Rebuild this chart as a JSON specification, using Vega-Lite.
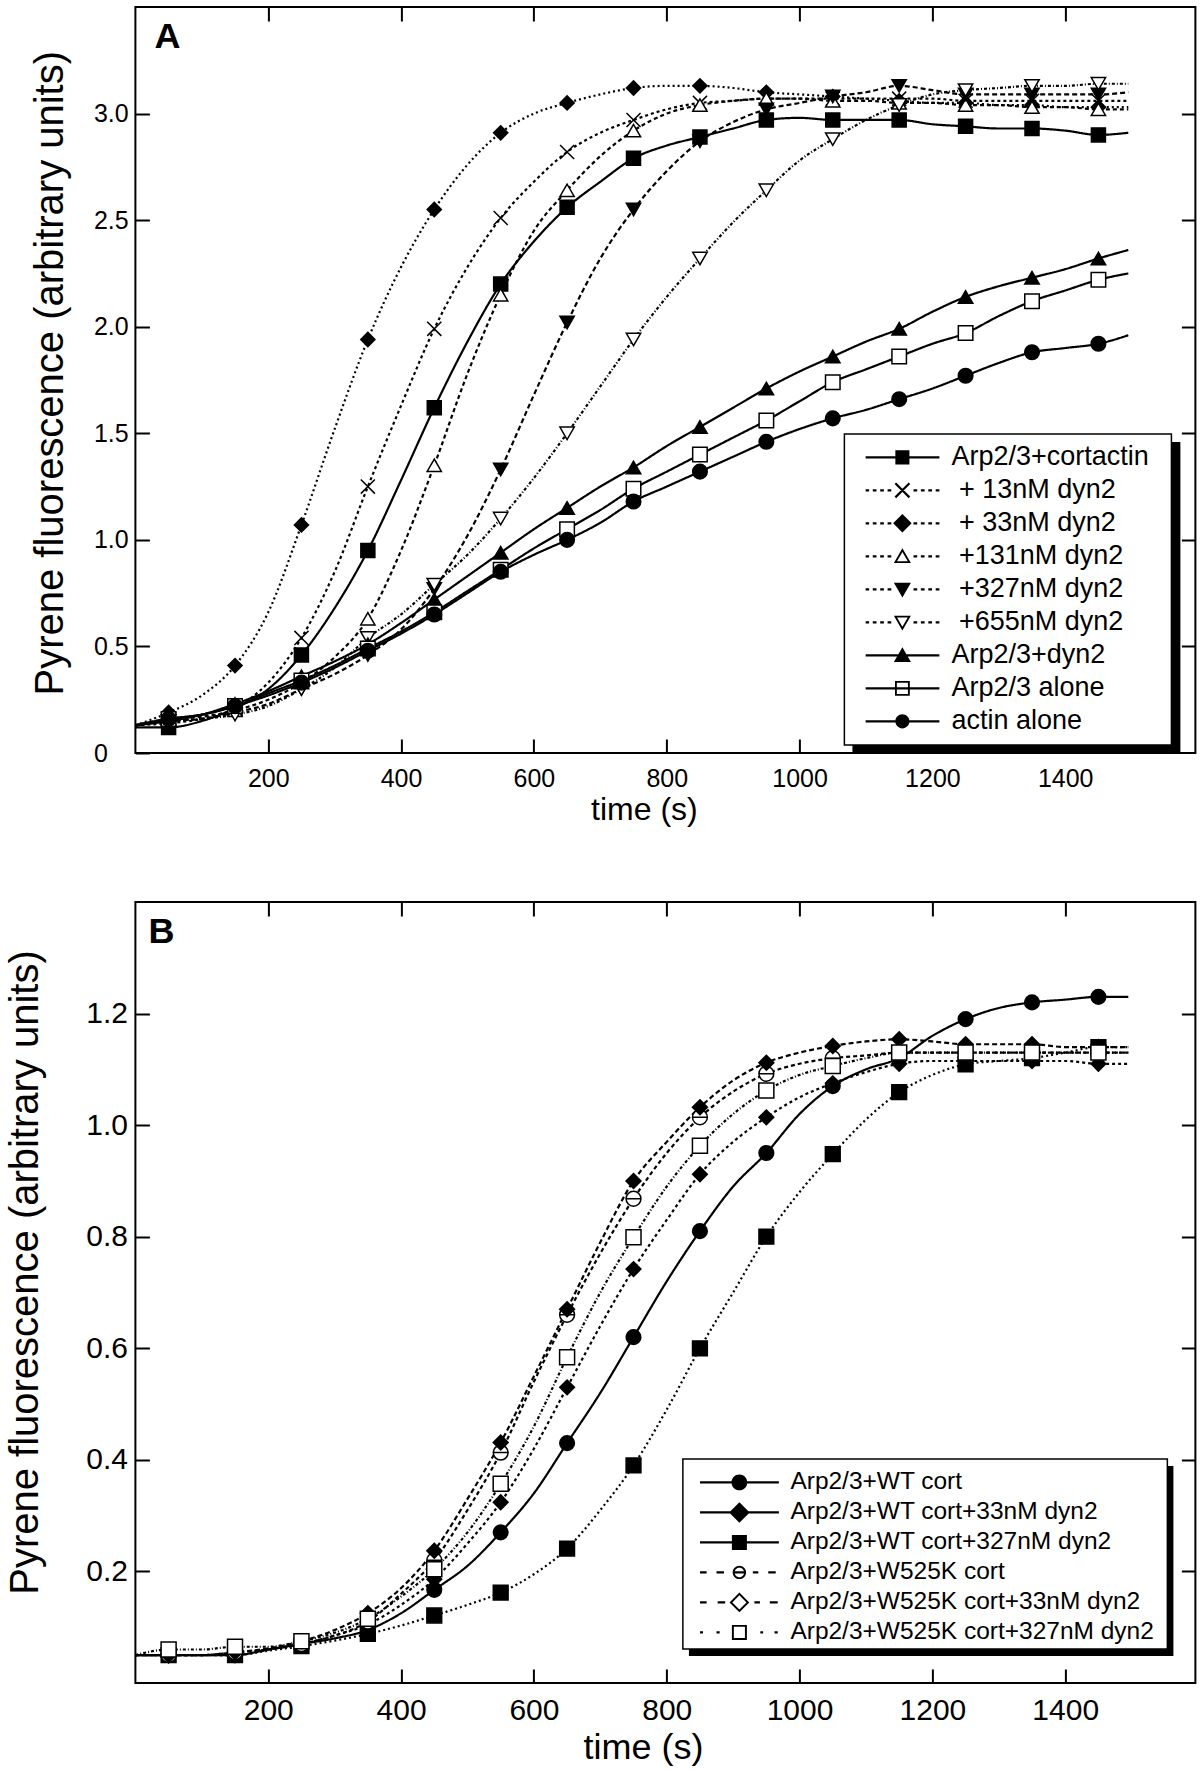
{
"$schema": "https://vega.github.io/schema/vega-lite/v6.json",
"background": "white",
"padding": {"left": 4.4, "top": 5, "right": 2, "bottom": 2},
"spacing": 149,
"bounds": "flush",
"config": {
 "font": "Liberation Sans",
 "view": {"stroke": "black", "strokeWidth": 2},
 "axis": {"labelColor": "black", "titleColor": "black", "titleFontWeight": "normal", "grid": false, "domain": false, "tickColor": "black", "tickWidth": 2, "labelFlush": false, "labelOverlap": false},
 "legend": {"labelColor": "black"}
},
"datasets": {
"A": [
{"series":"Arp2/3+cortactin","time":0,"value":0.12},{"series":"Arp2/3+cortactin","time":50,"value":0.12},{"series":"Arp2/3+cortactin","time":100,"value":0.15},{"series":"Arp2/3+cortactin","time":150,"value":0.21},{"series":"Arp2/3+cortactin","time":200,"value":0.30},{"series":"Arp2/3+cortactin","time":250,"value":0.46},{"series":"Arp2/3+cortactin","time":300,"value":0.68},{"series":"Arp2/3+cortactin","time":350,"value":0.95},{"series":"Arp2/3+cortactin","time":400,"value":1.28},{"series":"Arp2/3+cortactin","time":450,"value":1.62},{"series":"Arp2/3+cortactin","time":500,"value":1.93},{"series":"Arp2/3+cortactin","time":550,"value":2.20},{"series":"Arp2/3+cortactin","time":600,"value":2.40},{"series":"Arp2/3+cortactin","time":650,"value":2.56},{"series":"Arp2/3+cortactin","time":700,"value":2.68},{"series":"Arp2/3+cortactin","time":750,"value":2.79},{"series":"Arp2/3+cortactin","time":800,"value":2.85},{"series":"Arp2/3+cortactin","time":850,"value":2.89},{"series":"Arp2/3+cortactin","time":900,"value":2.93},{"series":"Arp2/3+cortactin","time":950,"value":2.97},{"series":"Arp2/3+cortactin","time":1000,"value":2.98},{"series":"Arp2/3+cortactin","time":1050,"value":2.97},{"series":"Arp2/3+cortactin","time":1100,"value":2.97},{"series":"Arp2/3+cortactin","time":1150,"value":2.97},{"series":"Arp2/3+cortactin","time":1200,"value":2.95},{"series":"Arp2/3+cortactin","time":1250,"value":2.94},{"series":"Arp2/3+cortactin","time":1300,"value":2.93},{"series":"Arp2/3+cortactin","time":1350,"value":2.93},{"series":"Arp2/3+cortactin","time":1400,"value":2.92},{"series":"Arp2/3+cortactin","time":1450,"value":2.90},{"series":"Arp2/3+cortactin","time":1495,"value":2.91},
{"series":"+ 13nM dyn2","time":0,"value":0.13},{"series":"+ 13nM dyn2","time":50,"value":0.14},{"series":"+ 13nM dyn2","time":100,"value":0.16},{"series":"+ 13nM dyn2","time":150,"value":0.21},{"series":"+ 13nM dyn2","time":200,"value":0.33},{"series":"+ 13nM dyn2","time":250,"value":0.54},{"series":"+ 13nM dyn2","time":300,"value":0.85},{"series":"+ 13nM dyn2","time":350,"value":1.25},{"series":"+ 13nM dyn2","time":400,"value":1.63},{"series":"+ 13nM dyn2","time":450,"value":1.99},{"series":"+ 13nM dyn2","time":500,"value":2.28},{"series":"+ 13nM dyn2","time":550,"value":2.51},{"series":"+ 13nM dyn2","time":600,"value":2.68},{"series":"+ 13nM dyn2","time":650,"value":2.82},{"series":"+ 13nM dyn2","time":700,"value":2.91},{"series":"+ 13nM dyn2","time":750,"value":2.97},{"series":"+ 13nM dyn2","time":800,"value":3.02},{"series":"+ 13nM dyn2","time":850,"value":3.05},{"series":"+ 13nM dyn2","time":900,"value":3.06},{"series":"+ 13nM dyn2","time":950,"value":3.07},{"series":"+ 13nM dyn2","time":1000,"value":3.07},{"series":"+ 13nM dyn2","time":1050,"value":3.07},{"series":"+ 13nM dyn2","time":1100,"value":3.07},{"series":"+ 13nM dyn2","time":1150,"value":3.07},{"series":"+ 13nM dyn2","time":1200,"value":3.07},{"series":"+ 13nM dyn2","time":1250,"value":3.06},{"series":"+ 13nM dyn2","time":1300,"value":3.06},{"series":"+ 13nM dyn2","time":1350,"value":3.06},{"series":"+ 13nM dyn2","time":1400,"value":3.06},{"series":"+ 13nM dyn2","time":1450,"value":3.06},{"series":"+ 13nM dyn2","time":1495,"value":3.06},
{"series":"+ 33nM dyn2","time":0,"value":0.13},{"series":"+ 33nM dyn2","time":50,"value":0.19},{"series":"+ 33nM dyn2","time":100,"value":0.27},{"series":"+ 33nM dyn2","time":150,"value":0.41},{"series":"+ 33nM dyn2","time":200,"value":0.66},{"series":"+ 33nM dyn2","time":250,"value":1.07},{"series":"+ 33nM dyn2","time":300,"value":1.52},{"series":"+ 33nM dyn2","time":350,"value":1.94},{"series":"+ 33nM dyn2","time":400,"value":2.28},{"series":"+ 33nM dyn2","time":450,"value":2.55},{"series":"+ 33nM dyn2","time":500,"value":2.76},{"series":"+ 33nM dyn2","time":550,"value":2.91},{"series":"+ 33nM dyn2","time":600,"value":3.00},{"series":"+ 33nM dyn2","time":650,"value":3.05},{"series":"+ 33nM dyn2","time":700,"value":3.09},{"series":"+ 33nM dyn2","time":750,"value":3.12},{"series":"+ 33nM dyn2","time":800,"value":3.13},{"series":"+ 33nM dyn2","time":850,"value":3.13},{"series":"+ 33nM dyn2","time":900,"value":3.12},{"series":"+ 33nM dyn2","time":950,"value":3.10},{"series":"+ 33nM dyn2","time":1000,"value":3.09},{"series":"+ 33nM dyn2","time":1050,"value":3.08},{"series":"+ 33nM dyn2","time":1100,"value":3.07},{"series":"+ 33nM dyn2","time":1150,"value":3.06},{"series":"+ 33nM dyn2","time":1200,"value":3.05},{"series":"+ 33nM dyn2","time":1250,"value":3.05},{"series":"+ 33nM dyn2","time":1300,"value":3.04},{"series":"+ 33nM dyn2","time":1350,"value":3.04},{"series":"+ 33nM dyn2","time":1400,"value":3.03},{"series":"+ 33nM dyn2","time":1450,"value":3.03},{"series":"+ 33nM dyn2","time":1495,"value":3.03},
{"series":"+131nM dyn2","time":0,"value":0.13},{"series":"+131nM dyn2","time":50,"value":0.16},{"series":"+131nM dyn2","time":100,"value":0.17},{"series":"+131nM dyn2","time":150,"value":0.20},{"series":"+131nM dyn2","time":200,"value":0.25},{"series":"+131nM dyn2","time":250,"value":0.33},{"series":"+131nM dyn2","time":300,"value":0.45},{"series":"+131nM dyn2","time":350,"value":0.63},{"series":"+131nM dyn2","time":400,"value":0.95},{"series":"+131nM dyn2","time":450,"value":1.35},{"series":"+131nM dyn2","time":500,"value":1.78},{"series":"+131nM dyn2","time":550,"value":2.15},{"series":"+131nM dyn2","time":600,"value":2.45},{"series":"+131nM dyn2","time":650,"value":2.64},{"series":"+131nM dyn2","time":700,"value":2.80},{"series":"+131nM dyn2","time":750,"value":2.92},{"series":"+131nM dyn2","time":800,"value":3.00},{"series":"+131nM dyn2","time":850,"value":3.04},{"series":"+131nM dyn2","time":900,"value":3.06},{"series":"+131nM dyn2","time":950,"value":3.07},{"series":"+131nM dyn2","time":1000,"value":3.07},{"series":"+131nM dyn2","time":1050,"value":3.06},{"series":"+131nM dyn2","time":1100,"value":3.06},{"series":"+131nM dyn2","time":1150,"value":3.05},{"series":"+131nM dyn2","time":1200,"value":3.05},{"series":"+131nM dyn2","time":1250,"value":3.04},{"series":"+131nM dyn2","time":1300,"value":3.04},{"series":"+131nM dyn2","time":1350,"value":3.03},{"series":"+131nM dyn2","time":1400,"value":3.03},{"series":"+131nM dyn2","time":1450,"value":3.02},{"series":"+131nM dyn2","time":1495,"value":3.02},
{"series":"+327nM dyn2","time":0,"value":0.13},{"series":"+327nM dyn2","time":50,"value":0.15},{"series":"+327nM dyn2","time":100,"value":0.16},{"series":"+327nM dyn2","time":150,"value":0.19},{"series":"+327nM dyn2","time":200,"value":0.23},{"series":"+327nM dyn2","time":250,"value":0.30},{"series":"+327nM dyn2","time":300,"value":0.37},{"series":"+327nM dyn2","time":350,"value":0.46},{"series":"+327nM dyn2","time":400,"value":0.58},{"series":"+327nM dyn2","time":450,"value":0.77},{"series":"+327nM dyn2","time":500,"value":1.02},{"series":"+327nM dyn2","time":550,"value":1.33},{"series":"+327nM dyn2","time":600,"value":1.68},{"series":"+327nM dyn2","time":650,"value":2.02},{"series":"+327nM dyn2","time":700,"value":2.32},{"series":"+327nM dyn2","time":750,"value":2.55},{"series":"+327nM dyn2","time":800,"value":2.73},{"series":"+327nM dyn2","time":850,"value":2.87},{"series":"+327nM dyn2","time":900,"value":2.96},{"series":"+327nM dyn2","time":950,"value":3.02},{"series":"+327nM dyn2","time":1000,"value":3.05},{"series":"+327nM dyn2","time":1050,"value":3.08},{"series":"+327nM dyn2","time":1100,"value":3.10},{"series":"+327nM dyn2","time":1150,"value":3.13},{"series":"+327nM dyn2","time":1200,"value":3.11},{"series":"+327nM dyn2","time":1250,"value":3.09},{"series":"+327nM dyn2","time":1300,"value":3.09},{"series":"+327nM dyn2","time":1350,"value":3.09},{"series":"+327nM dyn2","time":1400,"value":3.09},{"series":"+327nM dyn2","time":1450,"value":3.09},{"series":"+327nM dyn2","time":1495,"value":3.10},
{"series":"+655nM dyn2","time":0,"value":0.13},{"series":"+655nM dyn2","time":50,"value":0.15},{"series":"+655nM dyn2","time":100,"value":0.16},{"series":"+655nM dyn2","time":150,"value":0.18},{"series":"+655nM dyn2","time":200,"value":0.22},{"series":"+655nM dyn2","time":250,"value":0.30},{"series":"+655nM dyn2","time":300,"value":0.40},{"series":"+655nM dyn2","time":350,"value":0.54},{"series":"+655nM dyn2","time":400,"value":0.65},{"series":"+655nM dyn2","time":450,"value":0.79},{"series":"+655nM dyn2","time":500,"value":0.93},{"series":"+655nM dyn2","time":550,"value":1.10},{"series":"+655nM dyn2","time":600,"value":1.29},{"series":"+655nM dyn2","time":650,"value":1.50},{"series":"+655nM dyn2","time":700,"value":1.72},{"series":"+655nM dyn2","time":750,"value":1.94},{"series":"+655nM dyn2","time":800,"value":2.14},{"series":"+655nM dyn2","time":850,"value":2.32},{"series":"+655nM dyn2","time":900,"value":2.49},{"series":"+655nM dyn2","time":950,"value":2.64},{"series":"+655nM dyn2","time":1000,"value":2.78},{"series":"+655nM dyn2","time":1050,"value":2.88},{"series":"+655nM dyn2","time":1100,"value":2.97},{"series":"+655nM dyn2","time":1150,"value":3.04},{"series":"+655nM dyn2","time":1200,"value":3.09},{"series":"+655nM dyn2","time":1250,"value":3.11},{"series":"+655nM dyn2","time":1300,"value":3.12},{"series":"+655nM dyn2","time":1350,"value":3.13},{"series":"+655nM dyn2","time":1400,"value":3.13},{"series":"+655nM dyn2","time":1450,"value":3.14},{"series":"+655nM dyn2","time":1495,"value":3.14},
{"series":"Arp2/3+dyn2","time":0,"value":0.13},{"series":"Arp2/3+dyn2","time":50,"value":0.15},{"series":"Arp2/3+dyn2","time":100,"value":0.18},{"series":"Arp2/3+dyn2","time":150,"value":0.23},{"series":"Arp2/3+dyn2","time":200,"value":0.29},{"series":"Arp2/3+dyn2","time":250,"value":0.36},{"series":"Arp2/3+dyn2","time":300,"value":0.43},{"series":"Arp2/3+dyn2","time":350,"value":0.51},{"series":"Arp2/3+dyn2","time":400,"value":0.61},{"series":"Arp2/3+dyn2","time":450,"value":0.72},{"series":"Arp2/3+dyn2","time":500,"value":0.83},{"series":"Arp2/3+dyn2","time":550,"value":0.94},{"series":"Arp2/3+dyn2","time":600,"value":1.05},{"series":"Arp2/3+dyn2","time":650,"value":1.15},{"series":"Arp2/3+dyn2","time":700,"value":1.25},{"series":"Arp2/3+dyn2","time":750,"value":1.34},{"series":"Arp2/3+dyn2","time":800,"value":1.44},{"series":"Arp2/3+dyn2","time":850,"value":1.53},{"series":"Arp2/3+dyn2","time":900,"value":1.62},{"series":"Arp2/3+dyn2","time":950,"value":1.71},{"series":"Arp2/3+dyn2","time":1000,"value":1.79},{"series":"Arp2/3+dyn2","time":1050,"value":1.86},{"series":"Arp2/3+dyn2","time":1100,"value":1.93},{"series":"Arp2/3+dyn2","time":1150,"value":1.99},{"series":"Arp2/3+dyn2","time":1200,"value":2.07},{"series":"Arp2/3+dyn2","time":1250,"value":2.14},{"series":"Arp2/3+dyn2","time":1300,"value":2.19},{"series":"Arp2/3+dyn2","time":1350,"value":2.23},{"series":"Arp2/3+dyn2","time":1400,"value":2.27},{"series":"Arp2/3+dyn2","time":1450,"value":2.32},{"series":"Arp2/3+dyn2","time":1495,"value":2.36},
{"series":"Arp2/3 alone","time":0,"value":0.13},{"series":"Arp2/3 alone","time":50,"value":0.16},{"series":"Arp2/3 alone","time":100,"value":0.18},{"series":"Arp2/3 alone","time":150,"value":0.22},{"series":"Arp2/3 alone","time":200,"value":0.28},{"series":"Arp2/3 alone","time":250,"value":0.34},{"series":"Arp2/3 alone","time":300,"value":0.41},{"series":"Arp2/3 alone","time":350,"value":0.49},{"series":"Arp2/3 alone","time":400,"value":0.57},{"series":"Arp2/3 alone","time":450,"value":0.66},{"series":"Arp2/3 alone","time":500,"value":0.76},{"series":"Arp2/3 alone","time":550,"value":0.86},{"series":"Arp2/3 alone","time":600,"value":0.96},{"series":"Arp2/3 alone","time":650,"value":1.05},{"series":"Arp2/3 alone","time":700,"value":1.14},{"series":"Arp2/3 alone","time":750,"value":1.24},{"series":"Arp2/3 alone","time":800,"value":1.32},{"series":"Arp2/3 alone","time":850,"value":1.40},{"series":"Arp2/3 alone","time":900,"value":1.48},{"series":"Arp2/3 alone","time":950,"value":1.56},{"series":"Arp2/3 alone","time":1000,"value":1.65},{"series":"Arp2/3 alone","time":1050,"value":1.74},{"series":"Arp2/3 alone","time":1100,"value":1.80},{"series":"Arp2/3 alone","time":1150,"value":1.86},{"series":"Arp2/3 alone","time":1200,"value":1.92},{"series":"Arp2/3 alone","time":1250,"value":1.97},{"series":"Arp2/3 alone","time":1300,"value":2.05},{"series":"Arp2/3 alone","time":1350,"value":2.12},{"series":"Arp2/3 alone","time":1400,"value":2.17},{"series":"Arp2/3 alone","time":1450,"value":2.22},{"series":"Arp2/3 alone","time":1495,"value":2.25},
{"series":"actin alone","time":0,"value":0.13},{"series":"actin alone","time":50,"value":0.16},{"series":"actin alone","time":100,"value":0.18},{"series":"actin alone","time":150,"value":0.22},{"series":"actin alone","time":200,"value":0.27},{"series":"actin alone","time":250,"value":0.33},{"series":"actin alone","time":300,"value":0.40},{"series":"actin alone","time":350,"value":0.48},{"series":"actin alone","time":400,"value":0.56},{"series":"actin alone","time":450,"value":0.65},{"series":"actin alone","time":500,"value":0.75},{"series":"actin alone","time":550,"value":0.85},{"series":"actin alone","time":600,"value":0.93},{"series":"actin alone","time":650,"value":1.00},{"series":"actin alone","time":700,"value":1.08},{"series":"actin alone","time":750,"value":1.18},{"series":"actin alone","time":800,"value":1.25},{"series":"actin alone","time":850,"value":1.32},{"series":"actin alone","time":900,"value":1.39},{"series":"actin alone","time":950,"value":1.46},{"series":"actin alone","time":1000,"value":1.52},{"series":"actin alone","time":1050,"value":1.57},{"series":"actin alone","time":1100,"value":1.61},{"series":"actin alone","time":1150,"value":1.66},{"series":"actin alone","time":1200,"value":1.71},{"series":"actin alone","time":1250,"value":1.77},{"series":"actin alone","time":1300,"value":1.83},{"series":"actin alone","time":1350,"value":1.88},{"series":"actin alone","time":1400,"value":1.90},{"series":"actin alone","time":1450,"value":1.92},{"series":"actin alone","time":1495,"value":1.96}
],
"B": [
{"series":"Arp2/3+WT cort","time":0,"value":0.05},{"series":"Arp2/3+WT cort","time":50,"value":0.05},{"series":"Arp2/3+WT cort","time":100,"value":0.05},{"series":"Arp2/3+WT cort","time":150,"value":0.05},{"series":"Arp2/3+WT cort","time":200,"value":0.06},{"series":"Arp2/3+WT cort","time":250,"value":0.07},{"series":"Arp2/3+WT cort","time":300,"value":0.08},{"series":"Arp2/3+WT cort","time":350,"value":0.095},{"series":"Arp2/3+WT cort","time":400,"value":0.125},{"series":"Arp2/3+WT cort","time":450,"value":0.167},{"series":"Arp2/3+WT cort","time":500,"value":0.21},{"series":"Arp2/3+WT cort","time":550,"value":0.27},{"series":"Arp2/3+WT cort","time":600,"value":0.34},{"series":"Arp2/3+WT cort","time":650,"value":0.43},{"series":"Arp2/3+WT cort","time":700,"value":0.52},{"series":"Arp2/3+WT cort","time":750,"value":0.62},{"series":"Arp2/3+WT cort","time":800,"value":0.72},{"series":"Arp2/3+WT cort","time":850,"value":0.81},{"series":"Arp2/3+WT cort","time":900,"value":0.89},{"series":"Arp2/3+WT cort","time":950,"value":0.95},{"series":"Arp2/3+WT cort","time":1000,"value":1.02},{"series":"Arp2/3+WT cort","time":1050,"value":1.07},{"series":"Arp2/3+WT cort","time":1100,"value":1.10},{"series":"Arp2/3+WT cort","time":1150,"value":1.12},{"series":"Arp2/3+WT cort","time":1200,"value":1.16},{"series":"Arp2/3+WT cort","time":1250,"value":1.19},{"series":"Arp2/3+WT cort","time":1300,"value":1.21},{"series":"Arp2/3+WT cort","time":1350,"value":1.22},{"series":"Arp2/3+WT cort","time":1400,"value":1.225},{"series":"Arp2/3+WT cort","time":1450,"value":1.23},{"series":"Arp2/3+WT cort","time":1495,"value":1.23},
{"series":"Arp2/3+WT cort+33nM dyn2","time":0,"value":0.05},{"series":"Arp2/3+WT cort+33nM dyn2","time":50,"value":0.05},{"series":"Arp2/3+WT cort+33nM dyn2","time":100,"value":0.05},{"series":"Arp2/3+WT cort+33nM dyn2","time":150,"value":0.05},{"series":"Arp2/3+WT cort+33nM dyn2","time":200,"value":0.06},{"series":"Arp2/3+WT cort+33nM dyn2","time":250,"value":0.07},{"series":"Arp2/3+WT cort+33nM dyn2","time":300,"value":0.085},{"series":"Arp2/3+WT cort+33nM dyn2","time":350,"value":0.105},{"series":"Arp2/3+WT cort+33nM dyn2","time":400,"value":0.14},{"series":"Arp2/3+WT cort+33nM dyn2","time":450,"value":0.186},{"series":"Arp2/3+WT cort+33nM dyn2","time":500,"value":0.25},{"series":"Arp2/3+WT cort+33nM dyn2","time":550,"value":0.324},{"series":"Arp2/3+WT cort+33nM dyn2","time":600,"value":0.42},{"series":"Arp2/3+WT cort+33nM dyn2","time":650,"value":0.53},{"series":"Arp2/3+WT cort+33nM dyn2","time":700,"value":0.64},{"series":"Arp2/3+WT cort+33nM dyn2","time":750,"value":0.742},{"series":"Arp2/3+WT cort+33nM dyn2","time":800,"value":0.83},{"series":"Arp2/3+WT cort+33nM dyn2","time":850,"value":0.912},{"series":"Arp2/3+WT cort+33nM dyn2","time":900,"value":0.97},{"series":"Arp2/3+WT cort+33nM dyn2","time":950,"value":1.014},{"series":"Arp2/3+WT cort+33nM dyn2","time":1000,"value":1.05},{"series":"Arp2/3+WT cort+33nM dyn2","time":1050,"value":1.075},{"series":"Arp2/3+WT cort+33nM dyn2","time":1100,"value":1.095},{"series":"Arp2/3+WT cort+33nM dyn2","time":1150,"value":1.11},{"series":"Arp2/3+WT cort+33nM dyn2","time":1200,"value":1.115},{"series":"Arp2/3+WT cort+33nM dyn2","time":1250,"value":1.115},{"series":"Arp2/3+WT cort+33nM dyn2","time":1300,"value":1.115},{"series":"Arp2/3+WT cort+33nM dyn2","time":1350,"value":1.115},{"series":"Arp2/3+WT cort+33nM dyn2","time":1400,"value":1.115},{"series":"Arp2/3+WT cort+33nM dyn2","time":1450,"value":1.11},{"series":"Arp2/3+WT cort+33nM dyn2","time":1495,"value":1.11},
{"series":"Arp2/3+WT cort+327nM dyn2","time":0,"value":0.05},{"series":"Arp2/3+WT cort+327nM dyn2","time":50,"value":0.05},{"series":"Arp2/3+WT cort+327nM dyn2","time":100,"value":0.05},{"series":"Arp2/3+WT cort+327nM dyn2","time":150,"value":0.05},{"series":"Arp2/3+WT cort+327nM dyn2","time":200,"value":0.058},{"series":"Arp2/3+WT cort+327nM dyn2","time":250,"value":0.066},{"series":"Arp2/3+WT cort+327nM dyn2","time":300,"value":0.076},{"series":"Arp2/3+WT cort+327nM dyn2","time":350,"value":0.088},{"series":"Arp2/3+WT cort+327nM dyn2","time":400,"value":0.103},{"series":"Arp2/3+WT cort+327nM dyn2","time":450,"value":0.121},{"series":"Arp2/3+WT cort+327nM dyn2","time":500,"value":0.14},{"series":"Arp2/3+WT cort+327nM dyn2","time":550,"value":0.162},{"series":"Arp2/3+WT cort+327nM dyn2","time":600,"value":0.195},{"series":"Arp2/3+WT cort+327nM dyn2","time":650,"value":0.241},{"series":"Arp2/3+WT cort+327nM dyn2","time":700,"value":0.31},{"series":"Arp2/3+WT cort+327nM dyn2","time":750,"value":0.39},{"series":"Arp2/3+WT cort+327nM dyn2","time":800,"value":0.49},{"series":"Arp2/3+WT cort+327nM dyn2","time":850,"value":0.60},{"series":"Arp2/3+WT cort+327nM dyn2","time":900,"value":0.70},{"series":"Arp2/3+WT cort+327nM dyn2","time":950,"value":0.80},{"series":"Arp2/3+WT cort+327nM dyn2","time":1000,"value":0.88},{"series":"Arp2/3+WT cort+327nM dyn2","time":1050,"value":0.948},{"series":"Arp2/3+WT cort+327nM dyn2","time":1100,"value":1.01},{"series":"Arp2/3+WT cort+327nM dyn2","time":1150,"value":1.059},{"series":"Arp2/3+WT cort+327nM dyn2","time":1200,"value":1.09},{"series":"Arp2/3+WT cort+327nM dyn2","time":1250,"value":1.109},{"series":"Arp2/3+WT cort+327nM dyn2","time":1300,"value":1.115},{"series":"Arp2/3+WT cort+327nM dyn2","time":1350,"value":1.12},{"series":"Arp2/3+WT cort+327nM dyn2","time":1400,"value":1.13},{"series":"Arp2/3+WT cort+327nM dyn2","time":1450,"value":1.14},{"series":"Arp2/3+WT cort+327nM dyn2","time":1495,"value":1.14},
{"series":"Arp2/3+W525K cort","time":0,"value":0.05},{"series":"Arp2/3+W525K cort","time":50,"value":0.05},{"series":"Arp2/3+W525K cort","time":100,"value":0.05},{"series":"Arp2/3+W525K cort","time":150,"value":0.055},{"series":"Arp2/3+W525K cort","time":200,"value":0.06},{"series":"Arp2/3+W525K cort","time":250,"value":0.07},{"series":"Arp2/3+W525K cort","time":300,"value":0.085},{"series":"Arp2/3+W525K cort","time":350,"value":0.11},{"series":"Arp2/3+W525K cort","time":400,"value":0.16},{"series":"Arp2/3+W525K cort","time":450,"value":0.22},{"series":"Arp2/3+W525K cort","time":500,"value":0.31},{"series":"Arp2/3+W525K cort","time":550,"value":0.413},{"series":"Arp2/3+W525K cort","time":600,"value":0.54},{"series":"Arp2/3+W525K cort","time":650,"value":0.66},{"series":"Arp2/3+W525K cort","time":700,"value":0.77},{"series":"Arp2/3+W525K cort","time":750,"value":0.868},{"series":"Arp2/3+W525K cort","time":800,"value":0.95},{"series":"Arp2/3+W525K cort","time":850,"value":1.014},{"series":"Arp2/3+W525K cort","time":900,"value":1.06},{"series":"Arp2/3+W525K cort","time":950,"value":1.092},{"series":"Arp2/3+W525K cort","time":1000,"value":1.11},{"series":"Arp2/3+W525K cort","time":1050,"value":1.12},{"series":"Arp2/3+W525K cort","time":1100,"value":1.125},{"series":"Arp2/3+W525K cort","time":1150,"value":1.13},{"series":"Arp2/3+W525K cort","time":1200,"value":1.13},{"series":"Arp2/3+W525K cort","time":1250,"value":1.13},{"series":"Arp2/3+W525K cort","time":1300,"value":1.13},{"series":"Arp2/3+W525K cort","time":1350,"value":1.13},{"series":"Arp2/3+W525K cort","time":1400,"value":1.13},{"series":"Arp2/3+W525K cort","time":1450,"value":1.13},{"series":"Arp2/3+W525K cort","time":1495,"value":1.13},
{"series":"Arp2/3+W525K cort+33nM dyn2","time":0,"value":0.05},{"series":"Arp2/3+W525K cort+33nM dyn2","time":50,"value":0.05},{"series":"Arp2/3+W525K cort+33nM dyn2","time":100,"value":0.05},{"series":"Arp2/3+W525K cort+33nM dyn2","time":150,"value":0.055},{"series":"Arp2/3+W525K cort+33nM dyn2","time":200,"value":0.062},{"series":"Arp2/3+W525K cort+33nM dyn2","time":250,"value":0.075},{"series":"Arp2/3+W525K cort+33nM dyn2","time":300,"value":0.095},{"series":"Arp2/3+W525K cort+33nM dyn2","time":350,"value":0.125},{"series":"Arp2/3+W525K cort+33nM dyn2","time":400,"value":0.17},{"series":"Arp2/3+W525K cort+33nM dyn2","time":450,"value":0.237},{"series":"Arp2/3+W525K cort+33nM dyn2","time":500,"value":0.33},{"series":"Arp2/3+W525K cort+33nM dyn2","time":550,"value":0.431},{"series":"Arp2/3+W525K cort+33nM dyn2","time":600,"value":0.55},{"series":"Arp2/3+W525K cort+33nM dyn2","time":650,"value":0.67},{"series":"Arp2/3+W525K cort+33nM dyn2","time":700,"value":0.79},{"series":"Arp2/3+W525K cort+33nM dyn2","time":750,"value":0.90},{"series":"Arp2/3+W525K cort+33nM dyn2","time":800,"value":0.97},{"series":"Arp2/3+W525K cort+33nM dyn2","time":850,"value":1.032},{"series":"Arp2/3+W525K cort+33nM dyn2","time":900,"value":1.08},{"series":"Arp2/3+W525K cort+33nM dyn2","time":950,"value":1.112},{"series":"Arp2/3+W525K cort+33nM dyn2","time":1000,"value":1.13},{"series":"Arp2/3+W525K cort+33nM dyn2","time":1050,"value":1.142},{"series":"Arp2/3+W525K cort+33nM dyn2","time":1100,"value":1.15},{"series":"Arp2/3+W525K cort+33nM dyn2","time":1150,"value":1.154},{"series":"Arp2/3+W525K cort+33nM dyn2","time":1200,"value":1.15},{"series":"Arp2/3+W525K cort+33nM dyn2","time":1250,"value":1.145},{"series":"Arp2/3+W525K cort+33nM dyn2","time":1300,"value":1.145},{"series":"Arp2/3+W525K cort+33nM dyn2","time":1350,"value":1.145},{"series":"Arp2/3+W525K cort+33nM dyn2","time":1400,"value":1.14},{"series":"Arp2/3+W525K cort+33nM dyn2","time":1450,"value":1.14},{"series":"Arp2/3+W525K cort+33nM dyn2","time":1495,"value":1.14},
{"series":"Arp2/3+W525K cort+327nM dyn2","time":0,"value":0.05},{"series":"Arp2/3+W525K cort+327nM dyn2","time":50,"value":0.06},{"series":"Arp2/3+W525K cort+327nM dyn2","time":100,"value":0.06},{"series":"Arp2/3+W525K cort+327nM dyn2","time":150,"value":0.065},{"series":"Arp2/3+W525K cort+327nM dyn2","time":200,"value":0.065},{"series":"Arp2/3+W525K cort+327nM dyn2","time":250,"value":0.075},{"series":"Arp2/3+W525K cort+327nM dyn2","time":300,"value":0.09},{"series":"Arp2/3+W525K cort+327nM dyn2","time":350,"value":0.115},{"series":"Arp2/3+W525K cort+327nM dyn2","time":400,"value":0.155},{"series":"Arp2/3+W525K cort+327nM dyn2","time":450,"value":0.204},{"series":"Arp2/3+W525K cort+327nM dyn2","time":500,"value":0.27},{"series":"Arp2/3+W525K cort+327nM dyn2","time":550,"value":0.357},{"series":"Arp2/3+W525K cort+327nM dyn2","time":600,"value":0.46},{"series":"Arp2/3+W525K cort+327nM dyn2","time":650,"value":0.584},{"series":"Arp2/3+W525K cort+327nM dyn2","time":700,"value":0.70},{"series":"Arp2/3+W525K cort+327nM dyn2","time":750,"value":0.799},{"series":"Arp2/3+W525K cort+327nM dyn2","time":800,"value":0.89},{"series":"Arp2/3+W525K cort+327nM dyn2","time":850,"value":0.963},{"series":"Arp2/3+W525K cort+327nM dyn2","time":900,"value":1.02},{"series":"Arp2/3+W525K cort+327nM dyn2","time":950,"value":1.062},{"series":"Arp2/3+W525K cort+327nM dyn2","time":1000,"value":1.09},{"series":"Arp2/3+W525K cort+327nM dyn2","time":1050,"value":1.106},{"series":"Arp2/3+W525K cort+327nM dyn2","time":1100,"value":1.12},{"series":"Arp2/3+W525K cort+327nM dyn2","time":1150,"value":1.13},{"series":"Arp2/3+W525K cort+327nM dyn2","time":1200,"value":1.13},{"series":"Arp2/3+W525K cort+327nM dyn2","time":1250,"value":1.13},{"series":"Arp2/3+W525K cort+327nM dyn2","time":1300,"value":1.13},{"series":"Arp2/3+W525K cort+327nM dyn2","time":1350,"value":1.13},{"series":"Arp2/3+W525K cort+327nM dyn2","time":1400,"value":1.13},{"series":"Arp2/3+W525K cort+327nM dyn2","time":1450,"value":1.13},{"series":"Arp2/3+W525K cort+327nM dyn2","time":1495,"value":1.13}
]
},
"vconcat": [
{
 "width": 1060, "height": 746,
 "data": {"name": "A"},
 "resolve": {"scale": {"shape": "independent"}, "axis": {"x": "independent", "y": "independent"}},
 "layer": [
  {
   "mark": {"type": "line", "interpolate": "monotone", "strokeWidth": 2.2, "color": "black"},
   "encoding": {
    "x": {"field": "time", "type": "quantitative", "scale": {"domain": [0, 1596], "nice": false, "zero": false},
     "axis": {"orient": "bottom", "values": [200,400,600,800,1000,1200,1400], "format": "d", "labelFontSize": 25, "labelPadding": 27, "tickSize": -14, "title": "time (s)", "titleFontSize": 32, "titleX": 508.5, "titleY": 66, "titleBaseline": "alphabetic"}},
    "y": {"field": "value", "type": "quantitative", "scale": {"domain": [0, 3.5], "nice": false, "zero": false},
     "axis": {"orient": "left", "values": [0,0.5,1,1.5,2,2.5,3], "labelExpr": "datum.value == 0 ? '0' : format(datum.value, '.1f')", "labelAlign": "left", "labelFontSize": 25, "labelPadding": 56, "tickSize": -14, "title": "Pyrene fluorescence (arbitrary units)", "titleFontSize": 40, "titleX": -72.8, "titleY": 365.7, "titleBaseline": "alphabetic", "titleAngle": -90}},
    "strokeDash": {"field": "series", "type": "nominal", "scale": {"domain": ["Arp2/3+cortactin","+ 13nM dyn2","+ 33nM dyn2","+131nM dyn2","+327nM dyn2","+655nM dyn2","Arp2/3+dyn2","Arp2/3 alone","actin alone"], "range": [[1,0],[3,3],[2,3],[4,3],[5,3],[3,2,1,2],[1,0],[1,0],[1,0]]}, "legend": null}
   }
  },
  {
   "transform": [{"filter": "datum.time % 100 == 50"}],
   "mark": {"type": "point", "filled": true, "opacity": 1, "stroke": "black", "strokeWidth": 1.5},
   "encoding": {
    "x": {"field": "time", "type": "quantitative", "scale": {"domain": [0, 1596], "nice": false, "zero": false}, "axis": null},
    "y": {"field": "value", "type": "quantitative", "scale": {"domain": [0, 3.5], "nice": false, "zero": false}, "axis": null},
    "shape": {"field": "series", "type": "nominal", "scale": {"domain": ["Arp2/3+cortactin","+ 13nM dyn2","+ 33nM dyn2","+131nM dyn2","+327nM dyn2","+655nM dyn2","Arp2/3+dyn2","Arp2/3 alone","actin alone"], "range": ["square","M-1,-1L1,1M-1,1L1,-1","diamond","triangle-up","triangle-down","triangle-down","triangle-up","square","circle"]}, "legend": null},
    "fill": {"field": "series", "type": "nominal", "scale": {"domain": ["Arp2/3+cortactin","+ 13nM dyn2","+ 33nM dyn2","+131nM dyn2","+327nM dyn2","+655nM dyn2","Arp2/3+dyn2","Arp2/3 alone","actin alone"], "range": ["black","black","black","white","black","white","black","white","black"]}, "legend": null},
    "size": {"field": "series", "type": "ordinal", "scale": {"domain": ["Arp2/3+cortactin","+ 13nM dyn2","+ 33nM dyn2","+131nM dyn2","+327nM dyn2","+655nM dyn2","Arp2/3+dyn2","Arp2/3 alone","actin alone"], "range": [196,225,324,225,289,225,225,196,196]}, "legend": null}
   }
  },
  {
   "data": {"values": [{}]},
   "mark": {"type": "rect", "color": "black"},
   "encoding": {
    "x": {"datum": 1079.6, "type": "quantitative", "scale": {"domain": [0, 1596], "nice": false, "zero": false}, "axis": null},
    "x2": {"datum": 1573.4},
    "y": {"datum": 1.459, "type": "quantitative", "scale": {"domain": [0, 3.5], "nice": false, "zero": false}, "axis": null},
    "y2": {"datum": 0}
   }
  },
  {
   "data": {"values": [{}]},
   "mark": {"type": "rect", "fill": "white", "stroke": "black", "strokeWidth": 1.5},
   "encoding": {
    "x": {"datum": 1067.5, "type": "quantitative", "scale": {"domain": [0, 1596], "nice": false, "zero": false}, "axis": null},
    "x2": {"datum": 1559.9},
    "y": {"datum": 1.4967, "type": "quantitative", "scale": {"domain": [0, 3.5], "nice": false, "zero": false}, "axis": null},
    "y2": {"datum": 0.0375}
   }
  },
  {
   "mark": {"type": "point", "opacity": 0, "filled": true, "fill": "black"},
   "encoding": {
    "x": {"field": "time", "type": "quantitative", "scale": {"domain": [0, 1596], "nice": false, "zero": false},
     "axis": {"orient": "top", "values": [200,400,600,800,1000,1200,1400], "labels": false, "tickSize": -14, "title": null}},
    "y": {"field": "value", "type": "quantitative", "scale": {"domain": [0, 3.5], "nice": false, "zero": false},
     "axis": {"orient": "right", "values": [0.5,1,1.5,2,2.5,3], "labels": false, "tickSize": -14, "title": null}},
    "shape": {"field": "series", "type": "nominal",
     "scale": {"domain": ["Arp2/3+cortactin","+ 13nM dyn2","+ 33nM dyn2","+131nM dyn2","+327nM dyn2","+655nM dyn2","Arp2/3+dyn2","Arp2/3 alone","actin alone"],
      "range": [
       "M-1,-0.03H1V0.03H-1ZM-0.19,-0.19H0.19V0.19H-0.19Z",
       "M-1,-0.03H-0.9V0.03H-1ZM-0.8,-0.03H-0.7V0.03H-0.8ZM-0.6,-0.03H-0.5V0.03H-0.6ZM-0.4,-0.03H-0.3V0.03H-0.4ZM0.3,-0.03H0.4V0.03H0.3ZM0.5,-0.03H0.6V0.03H0.5ZM0.7,-0.03H0.8V0.03H0.7ZM0.9,-0.03H1V0.03H0.9ZM-0.169,-0.211L0.211,0.169L0.169,0.211L-0.211,-0.169ZM-0.169,0.211L-0.211,0.169L0.169,-0.211L0.211,-0.169Z",
       "M-1,-0.03H-0.9V0.03H-1ZM-0.8,-0.03H-0.7V0.03H-0.8ZM-0.6,-0.03H-0.5V0.03H-0.6ZM-0.4,-0.03H-0.3V0.03H-0.4ZM0.3,-0.03H0.4V0.03H0.3ZM0.5,-0.03H0.6V0.03H0.5ZM0.7,-0.03H0.8V0.03H0.7ZM0.9,-0.03H1V0.03H0.9ZM0,-0.25L0.25,0L0,0.25L-0.25,0Z",
       "M-1,-0.03H-0.9V0.03H-1ZM-0.8,-0.03H-0.7V0.03H-0.8ZM-0.6,-0.03H-0.5V0.03H-0.6ZM-0.4,-0.03H-0.3V0.03H-0.4ZM0.3,-0.03H0.4V0.03H0.3ZM0.5,-0.03H0.6V0.03H0.5ZM0.7,-0.03H0.8V0.03H0.7ZM0.9,-0.03H1V0.03H0.9ZM0,-0.22L0.23,0.18L-0.23,0.18ZM0,-0.12L-0.145,0.13L0.145,0.13Z",
       "M-1,-0.03H-0.9V0.03H-1ZM-0.8,-0.03H-0.7V0.03H-0.8ZM-0.6,-0.03H-0.5V0.03H-0.6ZM-0.4,-0.03H-0.3V0.03H-0.4ZM0.3,-0.03H0.4V0.03H0.3ZM0.5,-0.03H0.6V0.03H0.5ZM0.7,-0.03H0.8V0.03H0.7ZM0.9,-0.03H1V0.03H0.9ZM0,0.22L-0.23,-0.18L0.23,-0.18Z",
       "M-1,-0.03H-0.9V0.03H-1ZM-0.8,-0.03H-0.7V0.03H-0.8ZM-0.6,-0.03H-0.5V0.03H-0.6ZM-0.4,-0.03H-0.3V0.03H-0.4ZM0.3,-0.03H0.4V0.03H0.3ZM0.5,-0.03H0.6V0.03H0.5ZM0.7,-0.03H0.8V0.03H0.7ZM0.9,-0.03H1V0.03H0.9ZM0,0.22L-0.23,-0.18L0.23,-0.18ZM0,0.12L0.145,-0.13L-0.145,-0.13Z",
       "M-1,-0.03H1V0.03H-1ZM0,-0.22L0.23,0.18L-0.23,0.18Z",
       "M-1,-0.03H1V0.03H-1ZM-0.2,-0.2H0.2V0.2H-0.2ZM-0.15,-0.15V0.15H0.15V-0.15Z",
       "M-1,-0.03H1V0.03H-1ZM0.19,0A0.19,0.19,0,1,1,-0.19,0A0.19,0.19,0,1,1,0.19,0Z"
      ]},
     "legend": {"orient": "none", "legendX": 730, "legendY": 434, "direction": "vertical", "title": null, "padding": 0, "rowPadding": 0, "clipHeight": 32.7, "symbolSize": 5476, "symbolStrokeWidth": 0, "symbolFillColor": "black", "symbolOffset": 0, "labelOffset": 12, "labelFontSize": 27, "labelColor": "black", "labelLimit": 400,
      "labelExpr": "indexof(['+ 13nM dyn2','+ 33nM dyn2','+131nM dyn2','+327nM dyn2','+655nM dyn2'], datum.label) >= 0 ? '\u200b\u00a0' + datum.label : datum.label"}
    }
   }
  },
  {
   "data": {"values": [{}]},
   "mark": {"type": "text", "text": "A", "fontSize": 36, "fontWeight": "bold", "align": "left", "baseline": "alphabetic", "color": "black"},
   "encoding": {
    "x": {"datum": 28.6, "type": "quantitative", "scale": {"domain": [0, 1596], "nice": false, "zero": false}, "axis": null},
    "y": {"datum": 3.309, "type": "quantitative", "scale": {"domain": [0, 3.5], "nice": false, "zero": false}, "axis": null}
   }
  }
 ]
},
{
 "width": 1060, "height": 781,
 "data": {"name": "B"},
 "resolve": {"scale": {"shape": "independent"}, "axis": {"x": "independent", "y": "independent"}},
 "layer": [
  {
   "mark": {"type": "line", "interpolate": "monotone", "strokeWidth": 2.2, "color": "black"},
   "encoding": {
    "x": {"field": "time", "type": "quantitative", "scale": {"domain": [0, 1596], "nice": false, "zero": false},
     "axis": {"orient": "bottom", "values": [200,400,600,800,1000,1200,1400], "format": "d", "labelFontSize": 30, "labelPadding": 27, "tickSize": -14, "title": "time (s)", "titleFontSize": 36, "titleX": 507.5, "titleY": 75.4, "titleBaseline": "alphabetic"}},
    "y": {"field": "value", "type": "quantitative", "scale": {"domain": [0, 1.4], "nice": false, "zero": false},
     "axis": {"orient": "left", "values": [0.2,0.4,0.6,0.8,1.0,1.2], "format": ".1f", "labelAlign": "right", "labelFontSize": 30, "labelPadding": 22, "tickSize": -14, "title": "Pyrene fluorescence (arbitrary units)", "titleFontSize": 40, "titleX": -97.6, "titleY": 370, "titleBaseline": "alphabetic", "titleAngle": -90}},
    "strokeDash": {"field": "series", "type": "nominal", "scale": {"domain": ["Arp2/3+WT cort","Arp2/3+WT cort+33nM dyn2","Arp2/3+WT cort+327nM dyn2","Arp2/3+W525K cort","Arp2/3+W525K cort+33nM dyn2","Arp2/3+W525K cort+327nM dyn2"], "range": [[1,0],[1,0],[1,0],[7,4],[6,5],[2,5]]}, "legend": null}
   }
  },
  {
   "transform": [{"filter": "datum.time % 100 == 50"}],
   "mark": {"type": "point", "filled": true, "opacity": 1, "stroke": "black", "strokeWidth": 1.5},
   "encoding": {
    "x": {"field": "time", "type": "quantitative", "scale": {"domain": [0, 1596], "nice": false, "zero": false}, "axis": null},
    "y": {"field": "value", "type": "quantitative", "scale": {"domain": [0, 1.4], "nice": false, "zero": false}, "axis": null},
    "shape": {"field": "series", "type": "nominal", "scale": {"domain": ["Arp2/3+WT cort","Arp2/3+WT cort+33nM dyn2","Arp2/3+WT cort+327nM dyn2","Arp2/3+W525K cort","Arp2/3+W525K cort+33nM dyn2","Arp2/3+W525K cort+327nM dyn2"], "range": ["circle","diamond","square","M1,0A1,1,0,1,1,-1,0A1,1,0,1,1,1,0ZM-1,0H1","diamond","square"]}, "legend": null},
    "fill": {"field": "series", "type": "nominal", "scale": {"domain": ["Arp2/3+WT cort","Arp2/3+WT cort+33nM dyn2","Arp2/3+WT cort+327nM dyn2","Arp2/3+W525K cort","Arp2/3+W525K cort+33nM dyn2","Arp2/3+W525K cort+327nM dyn2"], "range": ["black","black","black","white","white","white"]}, "legend": null},
    "size": {"field": "series", "type": "ordinal", "scale": {"domain": ["Arp2/3+WT cort","Arp2/3+WT cort+33nM dyn2","Arp2/3+WT cort+327nM dyn2","Arp2/3+W525K cort","Arp2/3+W525K cort+33nM dyn2","Arp2/3+W525K cort+327nM dyn2"], "range": [324,441,289,196,361,225]}, "legend": null}
   }
  },
  {
   "data": {"values": [{}]},
   "mark": {"type": "rect", "color": "black"},
   "encoding": {
    "x": {"datum": 833.4, "type": "quantitative", "scale": {"domain": [0, 1596], "nice": false, "zero": false}, "axis": null},
    "x2": {"datum": 1562.9},
    "y": {"datum": 0.389, "type": "quantitative", "scale": {"domain": [0, 1.4], "nice": false, "zero": false}, "axis": null},
    "y2": {"datum": 0.0484}
   }
  },
  {
   "data": {"values": [{}]},
   "mark": {"type": "rect", "fill": "white", "stroke": "black", "strokeWidth": 1.5},
   "encoding": {
    "x": {"datum": 824.3, "type": "quantitative", "scale": {"domain": [0, 1596], "nice": false, "zero": false}, "axis": null},
    "x2": {"datum": 1553.8},
    "y": {"datum": 0.4015, "type": "quantitative", "scale": {"domain": [0, 1.4], "nice": false, "zero": false}, "axis": null},
    "y2": {"datum": 0.0609}
   }
  },
  {
   "mark": {"type": "point", "opacity": 0, "filled": true, "fill": "black"},
   "encoding": {
    "x": {"field": "time", "type": "quantitative", "scale": {"domain": [0, 1596], "nice": false, "zero": false},
     "axis": {"orient": "top", "values": [200,400,600,800,1000,1200,1400], "labels": false, "tickSize": -14, "title": null}},
    "y": {"field": "value", "type": "quantitative", "scale": {"domain": [0, 1.4], "nice": false, "zero": false},
     "axis": {"orient": "right", "values": [0.2,0.4,0.6,0.8,1.0,1.2], "labels": false, "tickSize": -14, "title": null}},
    "shape": {"field": "series", "type": "nominal",
     "scale": {"domain": ["Arp2/3+WT cort","Arp2/3+WT cort+33nM dyn2","Arp2/3+WT cort+327nM dyn2","Arp2/3+W525K cort","Arp2/3+W525K cort+33nM dyn2","Arp2/3+W525K cort+327nM dyn2"],
      "range": [
       "M-1,-0.028H1V0.028H-1ZM0.2,0A0.2,0.2,0,1,1,-0.2,0A0.2,0.2,0,1,1,0.2,0Z",
       "M-1,-0.028H1V0.028H-1ZM0,-0.26L0.26,0L0,0.26L-0.26,0Z",
       "M-1,-0.028H1V0.028H-1ZM-0.19,-0.19H0.19V0.19H-0.19Z",
       "M-1,-0.028H-0.83V0.028H-1ZM-0.58,-0.028H-0.39V0.028H-0.58ZM0.34,-0.028H0.48V0.028H0.34ZM0.73,-0.028H0.92V0.028H0.73ZM0.17,0A0.17,0.17,0,1,1,-0.17,0A0.17,0.17,0,1,1,0.17,0ZM0.12,0A0.12,0.12,0,1,0,-0.12,0A0.12,0.12,0,1,0,0.12,0ZM-0.13,-0.028H0.13V0.028H-0.13Z",
       "M-1,-0.028H-0.83V0.028H-1ZM-0.55,-0.028H-0.36V0.028H-0.55ZM0.38,-0.028H0.52V0.028H0.38ZM0.77,-0.028H0.97V0.028H0.77ZM0,-0.25L0.25,0L0,0.25L-0.25,0ZM0,-0.18L-0.18,0L0,0.18L0.18,0Z",
       "M-1,-0.028H-0.92V0.028H-1ZM-0.58,-0.028H-0.5V0.028H-0.58ZM0.53,-0.028H0.6V0.028H0.53ZM0.89,-0.028H0.97V0.028H0.89ZM-0.19,-0.19H0.19V0.19H-0.19ZM-0.14,-0.14V0.14H0.14V-0.14Z"
      ]},
     "legend": {"orient": "none", "legendX": 564.5, "legendY": 565.75, "direction": "vertical", "title": null, "padding": 0, "rowPadding": 0, "clipHeight": 29.3, "symbolSize": 6241, "symbolStrokeWidth": 0, "symbolFillColor": "black", "symbolOffset": 0, "labelOffset": 11.5, "labelFontSize": 24.5, "labelColor": "black", "labelLimit": 500}
    }
   }
  },
  {
   "data": {"values": [{}]},
   "mark": {"type": "text", "text": "B", "fontSize": 36, "fontWeight": "bold", "align": "left", "baseline": "alphabetic", "color": "black"},
   "encoding": {
    "x": {"datum": 19.6, "type": "quantitative", "scale": {"domain": [0, 1596], "nice": false, "zero": false}, "axis": null},
    "y": {"datum": 1.327, "type": "quantitative", "scale": {"domain": [0, 1.4], "nice": false, "zero": false}, "axis": null}
   }
  }
 ]
}
]
}
